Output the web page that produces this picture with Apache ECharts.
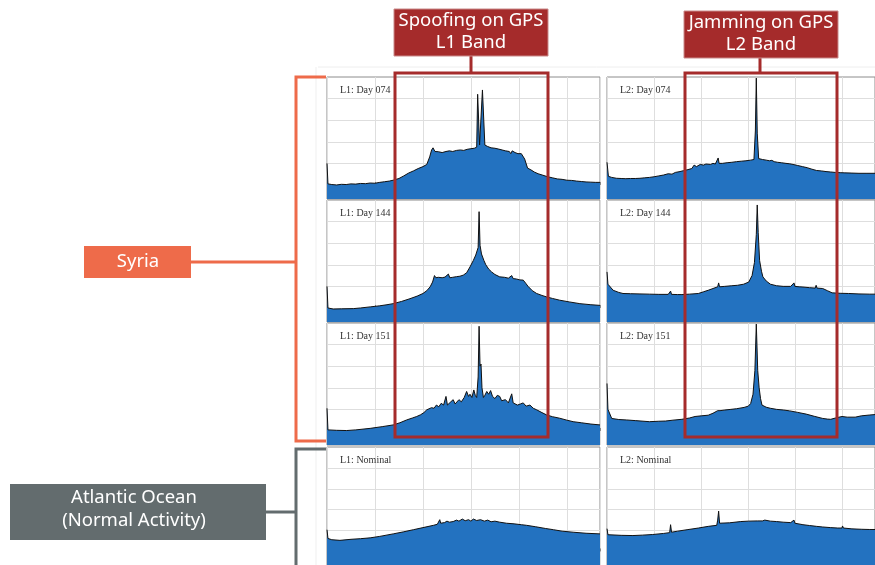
<!DOCTYPE html>
<html><head><meta charset="utf-8">
<script src="https://cdn.jsdelivr.net/npm/echarts@6/dist/echarts.min.js"></script>
<style>html,body{margin:0;padding:0;background:#fff}#c{width:875px;height:565px}</style>
</head><body><div id="c"></div>
<script>
// ---- data: [frequency offset (grid units), power level (grid units)] ----
const l1d074 = [[0,1.0],[0.02,0.05],[0.1,0.02],[0.2,0.0],[0.3,0.03],[0.4,0.02],[0.5,0.05],[0.6,0.04],[0.7,0.07],[0.8,0.06],[0.9,0.09],[1.0,0.08],[1.1,0.12],[1.2,0.15],[1.3,0.18],[1.38,0.22],[1.5,0.3],[1.6,0.42],[1.7,0.55],[1.8,0.65],[1.9,0.76],[2.0,0.85],[2.08,0.95],[2.14,1.3],[2.18,1.62],[2.21,1.72],[2.25,1.55],[2.32,1.54],[2.4,1.5],[2.48,1.55],[2.55,1.58],[2.62,1.55],[2.7,1.6],[2.78,1.62],[2.85,1.6],[2.92,1.65],[3.0,1.68],[3.07,1.7],[3.12,1.75],[3.14,4.2],[3.16,4.15],[3.18,1.85],[3.22,1.8],[3.24,4.4],[3.27,4.35],[3.29,1.85],[3.35,1.78],[3.42,1.72],[3.5,1.7],[3.58,1.66],[3.65,1.62],[3.72,1.58],[3.8,1.55],[3.83,1.45],[3.86,1.58],[3.92,1.5],[3.98,1.45],[4.05,1.45],[4.12,1.2],[4.18,0.78],[4.25,0.7],[4.32,0.6],[4.4,0.52],[4.5,0.45],[4.6,0.38],[4.7,0.33],[4.8,0.28],[4.9,0.26],[5.0,0.22],[5.1,0.21],[5.2,0.18],[5.3,0.16],[5.4,0.14],[5.5,0.13],[5.6,0.12],[5.69,0.12]];
const l2d074 = [[0,1.05],[0.03,0.4],[0.1,0.35],[0.2,0.31],[0.3,0.3],[0.4,0.29],[0.5,0.3],[0.6,0.3],[0.7,0.31],[0.8,0.33],[0.9,0.35],[1.0,0.38],[1.1,0.42],[1.2,0.46],[1.3,0.52],[1.38,0.5],[1.45,0.58],[1.55,0.62],[1.62,0.66],[1.7,0.7],[1.8,0.76],[1.85,0.92],[1.9,0.85],[1.98,0.95],[2.05,0.92],[2.1,0.97],[2.2,0.95],[2.25,1.0],[2.3,0.97],[2.34,1.02],[2.36,1.25],[2.38,1.0],[2.45,1.0],[2.55,1.03],[2.65,1.05],[2.75,1.08],[2.85,1.1],[2.95,1.12],[3.05,1.15],[3.12,1.18],[3.15,2.5],[3.17,4.95],[3.19,2.4],[3.22,1.22],[3.3,1.18],[3.38,1.15],[3.45,1.12],[3.5,1.14],[3.55,1.08],[3.62,1.05],[3.7,1.03],[3.8,1.0],[3.88,0.98],[3.95,0.95],[4.05,0.9],[4.15,0.85],[4.25,0.8],[4.35,0.73],[4.45,0.67],[4.55,0.65],[4.65,0.62],[4.75,0.6],[4.85,0.58],[4.95,0.57],[5.05,0.56],[5.2,0.55],[5.35,0.54],[5.5,0.54],[5.69,0.54]];
const l1d144 = [[0,1.0],[0.02,0.0],[0.13,-0.05],[0.3,-0.04],[0.55,-0.03],[0.7,0.0],[0.9,0.05],[1.1,0.1],[1.25,0.15],[1.38,0.2],[1.55,0.3],[1.73,0.43],[1.88,0.55],[2.0,0.67],[2.08,0.8],[2.15,0.98],[2.2,1.2],[2.24,1.5],[2.27,1.4],[2.32,1.42],[2.4,1.4],[2.46,1.43],[2.5,1.38],[2.53,1.57],[2.56,1.4],[2.62,1.42],[2.7,1.45],[2.77,1.47],[2.84,1.52],[2.91,1.63],[2.98,1.9],[3.05,2.2],[3.1,2.45],[3.15,2.8],[3.17,4.46],[3.19,2.9],[3.22,2.5],[3.27,2.2],[3.31,2.0],[3.37,1.8],[3.43,1.67],[3.5,1.55],[3.6,1.44],[3.7,1.42],[3.78,1.38],[3.85,1.5],[3.88,1.36],[3.95,1.34],[4.02,1.3],[4.09,1.29],[4.14,1.15],[4.19,1.0],[4.28,0.8],[4.37,0.67],[4.48,0.58],[4.58,0.51],[4.7,0.44],[4.85,0.36],[5.05,0.28],[5.27,0.2],[5.5,0.15],[5.69,0.12]];
const l2d144 = [[0,1.67],[0.02,1.1],[0.13,0.82],[0.25,0.72],[0.34,0.67],[0.5,0.66],[0.7,0.65],[0.9,0.64],[1.1,0.63],[1.3,0.63],[1.35,0.78],[1.37,0.63],[1.5,0.62],[1.59,0.62],[1.75,0.64],[1.94,0.67],[2.05,0.75],[2.15,0.82],[2.25,0.9],[2.35,0.98],[2.37,1.16],[2.39,0.98],[2.5,1.0],[2.65,1.03],[2.77,1.05],[2.9,1.1],[3.01,1.2],[3.08,1.5],[3.13,2.1],[3.17,3.4],[3.19,4.77],[3.21,3.5],[3.24,2.2],[3.28,1.7],[3.31,1.44],[3.38,1.25],[3.47,1.1],[3.6,1.03],[3.74,1.0],[3.9,1.0],[3.97,1.16],[3.99,1.0],[4.08,0.98],[4.16,0.97],[4.3,0.94],[4.42,0.92],[4.44,1.05],[4.46,0.92],[4.58,0.9],[4.68,0.8],[4.78,0.7],[4.95,0.68],[5.13,0.67],[5.35,0.65],[5.58,0.64],[5.69,0.64]];
const l1d151 = [[0,1.05],[0.02,0.05],[0.2,0.03],[0.41,0.02],[0.6,0.05],[0.9,0.12],[1.15,0.2],[1.38,0.28],[1.52,0.38],[1.66,0.51],[1.78,0.6],[1.87,0.67],[1.95,0.75],[2.02,0.85],[2.08,0.98],[2.12,0.92],[2.18,1.08],[2.23,1.05],[2.28,1.2],[2.33,1.12],[2.38,1.28],[2.43,1.2],[2.48,1.6],[2.51,1.2],[2.53,1.15],[2.58,1.35],[2.63,1.45],[2.67,1.25],[2.7,1.3],[2.75,1.45],[2.8,1.35],[2.86,1.55],[2.91,1.83],[2.95,1.6],[2.98,1.7],[3.02,1.55],[3.06,1.9],[3.09,1.65],[3.12,1.55],[3.15,2.5],[3.17,4.85],[3.19,3.0],[3.21,3.1],[3.23,2.0],[3.26,1.55],[3.29,1.65],[3.33,1.83],[3.37,1.7],[3.41,1.87],[3.45,1.6],[3.5,1.5],[3.55,1.65],[3.6,1.6],[3.64,1.4],[3.67,1.35],[3.72,1.45],[3.78,1.3],[3.82,1.35],[3.85,1.72],[3.88,1.3],[3.92,1.32],[3.97,1.2],[4.03,1.25],[4.09,1.3],[4.15,1.15],[4.23,1.2],[4.3,1.05],[4.37,0.98],[4.48,0.85],[4.58,0.74],[4.7,0.66],[4.85,0.59],[5.0,0.5],[5.13,0.43],[5.3,0.38],[5.5,0.32],[5.69,0.28]];
const l2d151 = [[0,2.2],[0.02,1.0],[0.1,0.58],[0.25,0.53],[0.41,0.51],[0.6,0.48],[0.9,0.43],[1.1,0.45],[1.24,0.46],[1.4,0.5],[1.59,0.54],[1.75,0.6],[1.87,0.67],[2.0,0.7],[2.15,0.73],[2.25,0.82],[2.35,0.94],[2.38,1.0],[2.4,0.94],[2.5,0.97],[2.63,1.0],[2.75,1.03],[2.91,1.09],[3.0,1.15],[3.05,1.27],[3.1,1.7],[3.14,2.8],[3.17,4.95],[3.2,2.8],[3.23,2.0],[3.26,1.5],[3.29,1.2],[3.38,1.1],[3.47,1.05],[3.6,1.0],[3.75,0.97],[3.88,0.93],[4.05,0.86],[4.23,0.78],[4.4,0.68],[4.58,0.58],[4.68,0.55],[4.75,0.54],[4.85,0.6],[4.99,0.67],[5.1,0.64],[5.27,0.64],[5.4,0.7],[5.58,0.74],[5.69,0.76]];
const l1nom = [[0,1.04],[0.02,0.62],[0.1,0.56],[0.27,0.53],[0.5,0.58],[0.7,0.61],[0.9,0.65],[1.1,0.72],[1.38,0.84],[1.6,0.94],[1.8,1.04],[2.0,1.14],[2.22,1.25],[2.3,1.3],[2.35,1.52],[2.37,1.35],[2.45,1.38],[2.5,1.45],[2.55,1.4],[2.63,1.43],[2.7,1.5],[2.75,1.45],[2.82,1.55],[2.88,1.47],[2.95,1.52],[3.0,1.45],[3.05,1.55],[3.12,1.48],[3.2,1.52],[3.28,1.45],[3.35,1.5],[3.42,1.42],[3.5,1.45],[3.53,1.38],[3.6,1.4],[3.74,1.35],[3.9,1.32],[4.05,1.28],[4.16,1.25],[4.35,1.18],[4.55,1.1],[4.72,1.04],[4.9,0.97],[5.13,0.92],[5.4,0.87],[5.69,0.84]];
const l2nom = [[0,1.09],[0.02,0.8],[0.06,0.78],[0.3,0.77],[0.55,0.76],[0.75,0.78],[0.97,0.81],[1.2,0.86],[1.33,0.9],[1.35,1.28],[1.37,0.92],[1.5,0.97],[1.7,1.04],[1.94,1.12],[2.15,1.2],[2.33,1.25],[2.35,1.5],[2.37,1.93],[2.39,1.35],[2.42,1.31],[2.6,1.37],[2.84,1.43],[3.0,1.45],[3.19,1.46],[3.3,1.46],[3.35,1.5],[3.38,1.46],[3.47,1.45],[3.6,1.43],[3.74,1.4],[3.9,1.38],[3.97,1.5],[3.99,1.35],[4.16,1.28],[4.3,1.24],[4.45,1.2],[4.58,1.17],[4.75,1.14],[4.9,1.12],[4.99,1.12],[5.0,1.22],[5.02,1.12],[5.2,1.08],[5.41,1.06],[5.58,1.05],[5.69,1.05]];

const panelLabels = ['L1: Day 074','L2: Day 074','L1: Day 144','L2: Day 144','L1: Day 151','L2: Day 151','L1: Nominal','L2: Nominal'];
const panelData = [l1d074, l2d074, l1d144, l2d144, l1d151, l2d151, l1nom, l2nom];
const yGridValues = [0, 1, 2, 3, 4];
const xRange = [0, 5.69];
const yRange = [-0.65, 5.0];

// ---- layout ----
const rowTops = [77, 200, 323, 447];
const colLefts = [327, 607];
const pw = 273, ph = 122;

const grids = [], xAxes = [], yAxes = [], series = [], titles = [];
panelData.forEach((d, i) => {
  const r = Math.floor(i / 2), c = i % 2;
  grids.push({left: colLefts[c], top: rowTops[r], width: pw, height: ph,
    show: true, borderColor: '#8c8c8c', borderWidth: 1, backgroundColor: '#fff'});
  xAxes.push({type: 'value', gridIndex: i, min: xRange[0], max: xRange[1], interval: 1,
    axisLine: {show: false}, axisLabel: {show: false},
    axisTick: {show: true, inside: true, length: 3, lineStyle: {color: '#888'}},
    splitLine: {show: true, lineStyle: {color: '#dedede', width: 1}}});
  yAxes.push({type: 'value', gridIndex: i, min: yRange[0], max: yRange[1],
    axisLine: {show: false}, axisLabel: {show: false}, axisTick: {show: false},
    splitLine: {show: false}});
  series.push({type: 'line', xAxisIndex: i, yAxisIndex: i, data: [], z: 1, silent: true,
    markLine: {silent: true, z: 1, symbol: 'none', label: {show: false}, animation: false,
      lineStyle: {color: '#dedede', type: 'solid', width: 1},
      data: yGridValues.map(v => ({yAxis: v}))}});
  series.push({type: 'line', xAxisIndex: i, yAxisIndex: i, data: d, z: 10,
    showSymbol: false, symbol: 'none', silent: true,
    lineStyle: {color: '#111', width: 1},
    areaStyle: {color: '#2372c0', opacity: 1, origin: 'start'}});
  titles.push({text: panelLabels[i], left: colLefts[c] + 13, top: rowTops[r] + 8, padding: 0,
    textStyle: {fontFamily: 'Liberation Serif', fontSize: 10, fontWeight: 'normal', color: '#333'}});
});

const RED = '#a52b2b', ORANGE = '#ee6b4a', GRAY = '#636c6e';
const txt = (x, y, s, size) => ({type: 'text', z: 100, x: x, y: y,
  style: {text: s, fill: '#fff', font: size + 'px "Noto Sans"', textAlign: 'center', textVerticalAlign: 'middle'}});
const graphic = [
  {type: 'line', z: 90, shape: {x1: 318, y1: 67, x2: 875, y2: 67}, style: {stroke: '#eeeeee', lineWidth: 1}},
  {type: 'line', z: 90, shape: {x1: 316, y1: 67, x2: 316, y2: 565}, style: {stroke: '#efefef', lineWidth: 1}},
  // red boxes
  {type: 'rect', z: 100, shape: {x: 395, y: 73, width: 153, height: 364}, style: {fill: null, stroke: RED, lineWidth: 3}},
  {type: 'rect', z: 100, shape: {x: 685, y: 73, width: 152, height: 364}, style: {fill: null, stroke: RED, lineWidth: 3}},
  {type: 'line', z: 100, shape: {x1: 471, y1: 55, x2: 471, y2: 73}, style: {stroke: RED, lineWidth: 3}},
  {type: 'line', z: 100, shape: {x1: 760, y1: 57, x2: 760, y2: 73}, style: {stroke: RED, lineWidth: 3}},
  {type: 'rect', z: 100, shape: {x: 394, y: 9, width: 154, height: 47}, style: {fill: RED, stroke: '#c98a8a', lineWidth: 1}},
  {type: 'rect', z: 100, shape: {x: 684, y: 11, width: 154, height: 47}, style: {fill: RED, stroke: '#c98a8a', lineWidth: 1}},
  txt(471, 21, 'Spoofing on GPS', 18.5), txt(471, 43, 'L1 Band', 18.5),
  txt(761, 23, 'Jamming on GPS', 18.5), txt(761, 45, 'L2 Band', 18.5),
  // Syria bracket
  {type: 'polyline', z: 100, shape: {points: [[326, 77], [296, 77], [296, 441], [326, 441]]}, style: {fill: null, stroke: ORANGE, lineWidth: 3}},
  {type: 'line', z: 100, shape: {x1: 190, y1: 262, x2: 296, y2: 262}, style: {stroke: ORANGE, lineWidth: 3}},
  {type: 'rect', z: 100, shape: {x: 84, y: 246, width: 107, height: 32}, style: {fill: ORANGE}},
  txt(138, 262, 'Syria', 18.5),
  // Atlantic bracket
  {type: 'polyline', z: 100, shape: {points: [[326, 449], [296, 449], [296, 570]]}, style: {fill: null, stroke: GRAY, lineWidth: 3}},
  {type: 'line', z: 100, shape: {x1: 265, y1: 512, x2: 296, y2: 512}, style: {stroke: GRAY, lineWidth: 3}},
  {type: 'rect', z: 100, shape: {x: 10, y: 484, width: 256, height: 56}, style: {fill: GRAY}},
  txt(134, 498, 'Atlantic Ocean', 18.5), txt(134, 521, '(Normal Activity)', 18.5)
];

const chart = echarts.init(document.getElementById('c'), null, {renderer: 'canvas'});
chart.setOption({animation: false, backgroundColor: '#fff', title: titles,
  grid: grids, xAxis: xAxes, yAxis: yAxes, series: series, graphic: graphic});
</script></body></html>
